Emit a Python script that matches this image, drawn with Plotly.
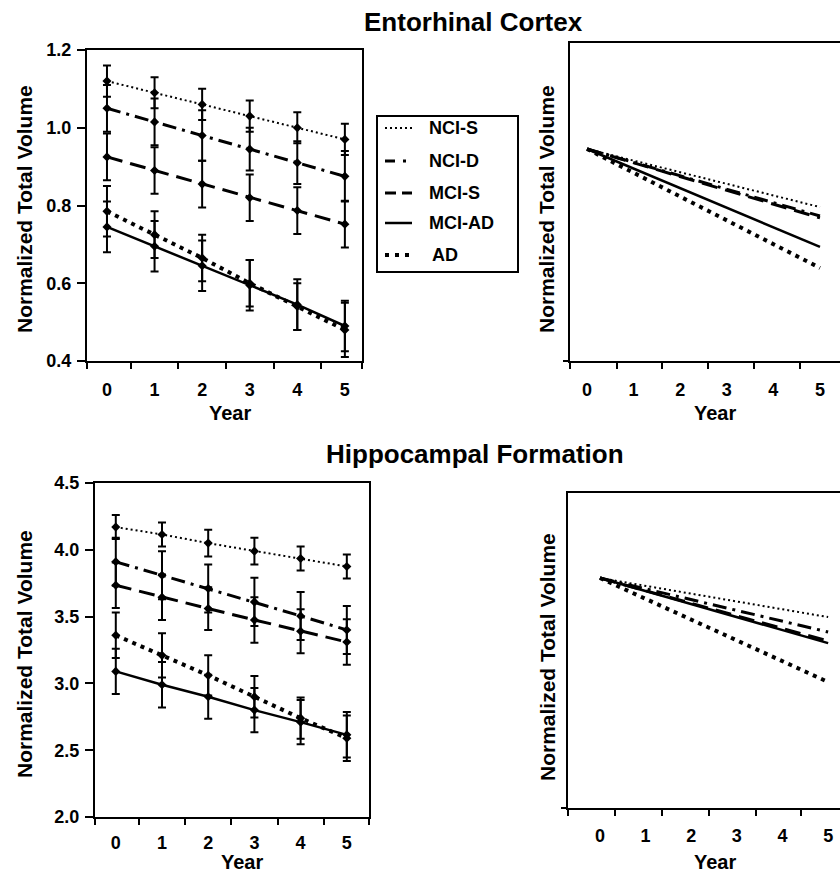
import plotly.graph_objects as go

# ---------------- data ----------------
years = [0, 1, 2, 3, 4, 5]
groups = ["NCI-S", "NCI-D", "MCI-S", "MCI-AD", "AD"]

# Entorhinal cortex: group means and error bars
ec_nci_s = [1.12, 1.09, 1.06, 1.03, 1.00, 0.97]
ec_nci_d = [1.05, 1.015, 0.98, 0.945, 0.91, 0.875]
ec_mci_s = [0.925, 0.89, 0.855, 0.82, 0.787, 0.752]
ec_mci_ad = [0.745, 0.695, 0.645, 0.595, 0.545, 0.49]
ec_ad = [0.785, 0.725, 0.665, 0.60, 0.54, 0.48]
ec_err_nci_s = [0.04, 0.04, 0.04, 0.04, 0.04, 0.04]
ec_err_nci_d = [0.06, 0.06, 0.065, 0.055, 0.055, 0.065]
ec_err_mci_s = [0.06, 0.06, 0.06, 0.06, 0.06, 0.06]
ec_err_mci_ad = [0.065, 0.065, 0.065, 0.065, 0.065, 0.065]
ec_err_ad = [0.065, 0.06, 0.06, 0.06, 0.06, 0.07]

# Hippocampal formation: group means and error bars
hf_nci_s = [4.17, 4.115, 4.05, 3.99, 3.935, 3.875]
hf_nci_d = [3.91, 3.81, 3.71, 3.61, 3.505, 3.40]
hf_mci_s = [3.735, 3.645, 3.56, 3.475, 3.39, 3.31]
hf_mci_ad = [3.09, 2.99, 2.90, 2.80, 2.71, 2.615]
hf_ad = [3.36, 3.21, 3.06, 2.90, 2.74, 2.59]
hf_err_nci_s = [0.09, 0.09, 0.10, 0.10, 0.09, 0.09]
hf_err_nci_d = [0.18, 0.18, 0.18, 0.18, 0.18, 0.18]
hf_err_mci_s = [0.17, 0.17, 0.16, 0.17, 0.165, 0.17]
hf_err_mci_ad = [0.17, 0.17, 0.165, 0.165, 0.165, 0.17]
hf_err_ad = [0.17, 0.165, 0.15, 0.155, 0.155, 0.17]

# Relative trajectories (right panels), start and end of each fitted line
rel_years = [0, 5]
ec_rel_nci_s = [1.0, 0.726]
ec_rel_nci_d = [1.0, 0.684]
ec_rel_mci_s = [1.0, 0.675]
ec_rel_mci_ad = [1.0, 0.538]
ec_rel_ad = [1.0, 0.439]
hf_rel_nci_s = [1.0, 0.814]
hf_rel_nci_d = [1.0, 0.743]
hf_rel_mci_s = [1.0, 0.70]
hf_rel_mci_ad = [1.0, 0.69]
hf_rel_ad = [1.0, 0.505]

y_ticks_ec = [0.4, 0.6, 0.8, 1.0, 1.2]
y_ticks_hf = [2.0, 2.5, 3.0, 3.5, 4.0, 4.5]

# ---------------- styling ----------------
W, H = 840, 873
FONT = "Liberation Sans, Arial, sans-serif"
styles = {
    "NCI-S": dict(dash="2px,3px", width=2),
    "NCI-D": dict(dash="14px,6px,3px,6px", width=3),
    "MCI-S": dict(dash="16px,8px", width=3),
    "MCI-AD": dict(dash="solid", width=2.5),
    "AD": dict(dash="4px,5px", width=4),
}


def px(x):
    return x / W


def py(y):
    return 1 - y / H


fig = go.Figure()

ec_means = [ec_nci_s, ec_nci_d, ec_mci_s, ec_mci_ad, ec_ad]
ec_errs = [ec_err_nci_s, ec_err_nci_d, ec_err_mci_s, ec_err_mci_ad, ec_err_ad]
hf_means = [hf_nci_s, hf_nci_d, hf_mci_s, hf_mci_ad, hf_ad]
hf_errs = [hf_err_nci_s, hf_err_nci_d, hf_err_mci_s, hf_err_mci_ad, hf_err_ad]
ec_rel = [ec_rel_nci_s, ec_rel_nci_d, ec_rel_mci_s, ec_rel_mci_ad, ec_rel_ad]
hf_rel = [hf_rel_nci_s, hf_rel_nci_d, hf_rel_mci_s, hf_rel_mci_ad, hf_rel_ad]

for means, errs, xa, ya in [(ec_means, ec_errs, "x", "y"), (hf_means, hf_errs, "x3", "y3")]:
    for g, m, e in zip(groups, means, errs):
        st = styles[g]
        fig.add_trace(go.Scatter(
            x=years, y=m, xaxis=xa, yaxis=ya, name=g, showlegend=False,
            mode="lines+markers",
            line=dict(color="black", width=st["width"], dash=st["dash"]),
            marker=dict(symbol="diamond", size=7, color="black"),
            error_y=dict(type="data", array=e, visible=True, thickness=2, width=4, color="black"),
        ))

for rel, xa, ya in [(ec_rel, "x2", "y2"), (hf_rel, "x4", "y4")]:
    for g, r in zip(groups, rel):
        st = styles[g]
        fig.add_trace(go.Scatter(
            x=rel_years, y=r, xaxis=xa, yaxis=ya, name=g, showlegend=False,
            mode="lines",
            line=dict(color="black", width=st["width"], dash=st["dash"]),
        ))

tickfont = dict(family=FONT, size=18, color="black", weight="bold")


def xaxis_cfg(x0, x1, rng, minor_vals, anchor, standoff, mirror=True):
    return dict(
        domain=[px(x0), min(px(x1), 1.0)], range=rng, anchor=anchor,
        tickvals=years, ticktext=[str(v) for v in years], ticks="",
        ticklabelstandoff=standoff, tickfont=tickfont, automargin=False,
        showline=True, linecolor="black", linewidth=2, mirror=mirror,
        showgrid=False, zeroline=False, fixedrange=True,
        minor=dict(tickvals=minor_vals, ticks="outside", ticklen=6, tickwidth=2, tickcolor="black"),
    )


def yaxis_cfg(y_top, y_bot, rng, tickvals, anchor, labels=True, mirror=True):
    d = dict(
        domain=[py(y_bot), py(y_top)], range=rng, anchor=anchor,
        showline=True, linecolor="black", linewidth=2, mirror=mirror,
        showgrid=False, zeroline=False, fixedrange=True, automargin=False,
        ticks="outside", ticklen=8, tickwidth=2, tickcolor="black",
        tickvals=tickvals, tickfont=tickfont,
    )
    if labels:
        d["ticktext"] = [f"{v:.1f}" for v in tickvals]
        d["ticklabelstandoff"] = 2
    else:
        d["showticklabels"] = False
        d["ticklen"] = 5
    return d


fig.update_layout(
    width=W, height=H, margin=dict(l=0, r=0, t=0, b=0, pad=0, autoexpand=False),
    paper_bgcolor="white", plot_bgcolor="white",
    font=dict(family=FONT, color="black"),
    showlegend=False,
    xaxis=xaxis_cfg(87, 362, [-0.42, 5.36], [-0.42, 0.5, 1.5, 2.5, 3.5, 4.5, 5.36], "y", 11),
    yaxis=yaxis_cfg(50, 361, [0.4, 1.2], y_ticks_ec, "x"),
    xaxis2=xaxis_cfg(570, 840, [-0.365, 5.43], [-0.365, 0.64, 1.61, 2.6, 3.58, 4.57], "y2", 11),
    yaxis2=yaxis_cfg(43, 361, [0, 1.5], [0], "x2", labels=False, mirror=False),
    xaxis3=xaxis_cfg(95, 369, [-0.45, 5.48], [-0.45, 0.5, 1.5, 2.5, 3.5, 4.5, 5.48], "y3", 8),
    yaxis3=yaxis_cfg(483, 817, [2.0, 4.5], y_ticks_hf, "x3"),
    xaxis4=xaxis_cfg(568, 840, [-0.70, 5.26], [-0.70, 0.33, 1.36, 2.39, 3.42, 4.41], "y4", 10),
    yaxis4=yaxis_cfg(493, 808, [-0.095, 1.405], [-0.095], "x4", labels=False, mirror=False),
)

annotations = []


def text(x, y, s, size, angle=0, xanchor="center"):
    annotations.append(dict(
        x=px(x), y=py(y), xref="paper", yref="paper", text=s, showarrow=False,
        xanchor=xanchor, yanchor="middle", textangle=angle,
        font=dict(family=FONT, size=size, color="black", weight="bold"),
    ))


text(473, 22, "Entorhinal Cortex", 26)
text(475, 454, "Hippocampal Formation", 26)
for xc, yc in [(24, 209), (546, 209), (24, 654), (547, 657)]:
    text(xc, yc, "Normalized Total Volume", 21, angle=-90)
for xc, yc in [(230, 413), (715, 413), (242, 862), (715, 862)]:
    text(xc, yc, "Year", 20)

# legend (drawn by hand to match the boxed legend of the original)
shapes = [dict(type="rect", xref="paper", yref="paper", x0=px(377), x1=px(518),
               y0=py(272), y1=py(116), line=dict(color="black", width=2), fillcolor="white",
               layer="below")]
leg_y = [128, 161, 193, 223, 255]
leg_dash = {"NCI-S": "2px,3px", "NCI-D": "10px,8px,3px,8px", "MCI-S": "11px,6px",
            "MCI-AD": "solid", "AD": "4px,6px"}
for g, yy in zip(groups, leg_y):
    shapes.append(dict(type="line", xref="paper", yref="paper", x0=px(385), x1=px(412),
                       y0=py(yy), y1=py(yy),
                       line=dict(color="black", width=styles[g]["width"], dash=leg_dash[g])))
    text(427 if g != "AD" else 430, yy, g, 18, xanchor="left")

fig.update_layout(annotations=annotations, shapes=shapes)
fig.write_html(
    "out.html",
    config={"displayModeBar": False, "staticPlot": True},
    post_script="document.body.style.margin='0';document.body.style.overflow='hidden';",
)
